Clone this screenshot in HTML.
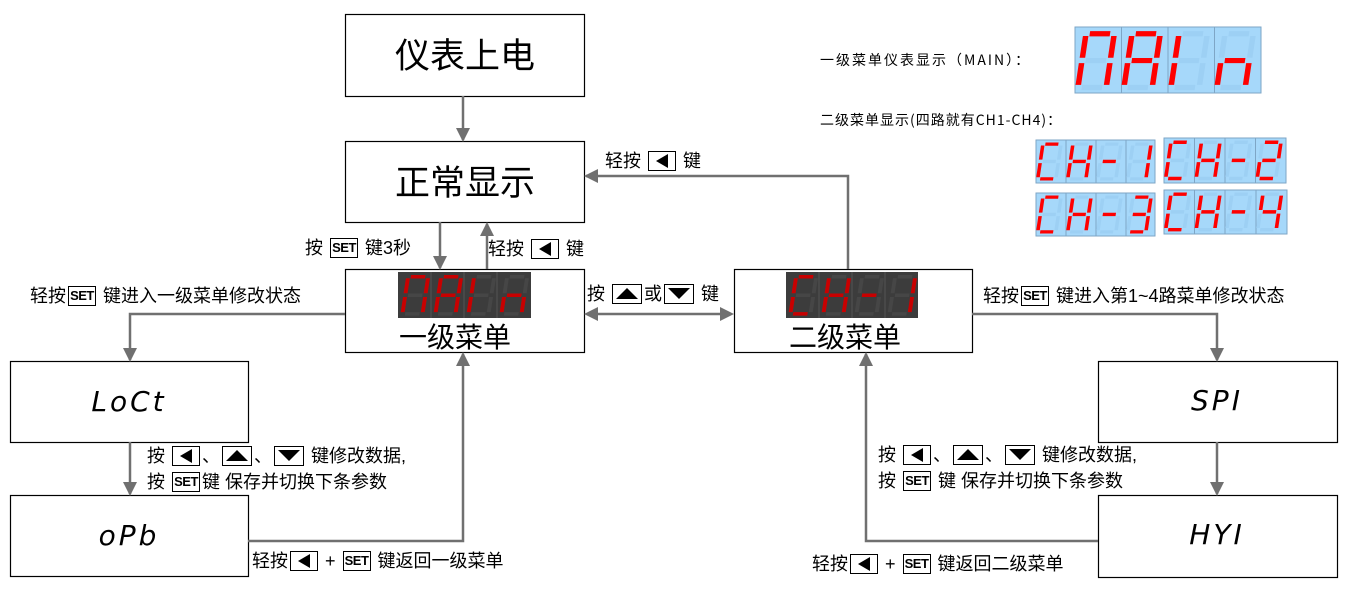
<!DOCTYPE html>
<html><head><meta charset="utf-8">
<style>
body{margin:0;width:1346px;height:606px;background:#fff;position:relative;overflow:hidden;font-family:"Liberation Sans","Noto Sans CJK SC",sans-serif;}
svg.m{position:absolute;left:0;top:0}
.l{position:absolute;font-size:18px;line-height:22px;white-space:nowrap;color:#000}
.k{display:inline-block;border:1px solid #000;height:20px;line-height:18px;min-width:28px;text-align:center;font-size:13px;font-weight:bold;vertical-align:middle;margin:-2px 2px 0;box-sizing:border-box;padding:0 1px;letter-spacing:-0.5px}
.k svg{display:block;margin:2px auto 0}
.s{position:absolute;font-size:14px;font-family:"WenQuanYi Zen Hei","Noto Sans CJK SC",sans-serif;letter-spacing:2px;white-space:nowrap}
.seg{position:absolute;font-family:"DejaVu Sans",sans-serif;font-style:italic;font-size:28px;text-align:center;width:238px;letter-spacing:3px;font-weight:normal}
</style></head><body>
<svg class="m" width="1346" height="606" viewBox="0 0 1346 606">
<defs>
<rect id="a" x="5" y="0.5" width="14" height="3.8"/>
<rect id="b" x="20" y="4" width="3.8" height="16"/>
<rect id="c" x="20" y="24" width="3.8" height="16"/>
<rect id="d" x="5" y="40" width="14" height="3.8"/>
<rect id="e" x="0.5" y="24" width="3.8" height="16"/>
<rect id="f" x="0.5" y="4" width="3.8" height="16"/>
<rect id="g" x="5" y="20.2" width="14" height="3.8"/>
<g id="all"><use href="#a"/><use href="#b"/><use href="#c"/><use href="#d"/><use href="#e"/><use href="#f"/><use href="#g"/></g>
<marker id="ar" markerWidth="14" markerHeight="14" refX="12" refY="7" orient="auto" markerUnits="userSpaceOnUse" viewBox="0 0 14 14"><path d="M0,0 L14,7 L0,14 z" fill="#707070"/></marker>
</defs>
<g fill="none" stroke="#000" stroke-width="1.2">
<rect x="345.5" y="14.5" width="239" height="82"/>
<rect x="345.5" y="141.5" width="239" height="81"/>
<rect x="345.5" y="269.5" width="239" height="83"/>
<rect x="734.5" y="269.5" width="238" height="83"/>
<rect x="10.5" y="361.5" width="238" height="81"/>
<rect x="10.5" y="495.5" width="238" height="81"/>
<rect x="1098.5" y="361.5" width="239" height="81"/>
<rect x="1098.5" y="495.5" width="239" height="82"/>
</g>
<g fill="none" stroke="#707070" stroke-width="2.5">
<line x1="463" y1="96" x2="463" y2="140" marker-end="url(#ar)"/>
<line x1="440" y1="222" x2="440" y2="268" marker-end="url(#ar)"/>
<line x1="487" y1="269" x2="487" y2="224" marker-end="url(#ar)"/>
<polyline points="848,269 848,176 586,176" marker-end="url(#ar)"/>
<line x1="596" y1="314" x2="722" y2="314"/>
<polyline points="345,314 130,314 130,360" marker-end="url(#ar)"/>
<line x1="130" y1="442" x2="130" y2="494" marker-end="url(#ar)"/>
<polyline points="248,541 463,541 463,354" marker-end="url(#ar)"/>
<polyline points="972,314 1217,314 1217,360" marker-end="url(#ar)"/>
<line x1="1217" y1="442" x2="1217" y2="494" marker-end="url(#ar)"/>
<polyline points="1098,541 866,541 866,354" marker-end="url(#ar)"/>
</g>
<path d="M584,314 L598,307 L598,321 z M734,314 L720,307 L720,321 z" fill="#707070"/>
<rect x="398" y="272" width="133" height="46" fill="#3c3c3c"/>
<rect x="786" y="272" width="132" height="46" fill="#3c3c3c"/>
<g stroke="#555" stroke-width="1" fill="none">
<line x1="431" y1="272" x2="431" y2="318"/><line x1="464" y1="272" x2="464" y2="318"/><line x1="497" y1="272" x2="497" y2="318"/>
<line x1="819" y1="272" x2="819" y2="318"/><line x1="852" y1="272" x2="852" y2="318"/><line x1="885" y1="272" x2="885" y2="318"/>
</g>
<g>
<g transform="translate(406,274.5) scale(1.03,0.94) skewX(-8)" fill="#464646"><use href="#all"/><g fill="#c80000"><use href="#a"/><use href="#b"/><use href="#c"/><use href="#e"/><use href="#f"/></g></g>
<g transform="translate(439,274.5) scale(1.03,0.94) skewX(-8)" fill="#464646"><use href="#all"/><g fill="#c80000"><use href="#a"/><use href="#b"/><use href="#c"/><use href="#e"/><use href="#f"/><use href="#g"/></g></g>
<g transform="translate(472,274.5) scale(1.03,0.94) skewX(-8)" fill="#464646"><use href="#all"/><g fill="#c80000"><use href="#e"/><use href="#f"/></g></g>
<g transform="translate(505,274.5) scale(1.03,0.94) skewX(-8)" fill="#464646"><use href="#all"/><g fill="#c80000"><use href="#c"/><use href="#e"/><use href="#g"/></g></g>
<g transform="translate(794,274.5) scale(1.03,0.94) skewX(-8)" fill="#464646"><use href="#all"/><g fill="#c80000"><use href="#a"/><use href="#d"/><use href="#e"/><use href="#f"/></g></g>
<g transform="translate(827,274.5) scale(1.03,0.94) skewX(-8)" fill="#464646"><use href="#all"/><g fill="#c80000"><use href="#b"/><use href="#c"/><use href="#e"/><use href="#f"/><use href="#g"/></g></g>
<g transform="translate(860,274.5) scale(1.03,0.94) skewX(-8)" fill="#464646"><use href="#all"/><g fill="#c80000"><use href="#g"/></g></g>
<g transform="translate(893,274.5) scale(1.03,0.94) skewX(-8)" fill="#464646"><use href="#all"/><g fill="#c80000"><use href="#b"/><use href="#c"/></g></g>
</g>
<g fill="#a6d8fa" stroke="#7ea6c6" stroke-width="1">
<rect x="1075" y="27" width="186" height="66"/>
<line x1="1121.5" y1="27" x2="1121.5" y2="93"/><line x1="1168" y1="27" x2="1168" y2="93"/><line x1="1214.5" y1="27" x2="1214.5" y2="93"/>
<rect x="1036" y="140" width="119" height="43"/>
<line x1="1066" y1="140" x2="1066" y2="183"/><line x1="1096" y1="140" x2="1096" y2="183"/><line x1="1126" y1="140" x2="1126" y2="183"/>
<rect x="1164" y="138" width="122" height="45"/>
<line x1="1194.5" y1="138" x2="1194.5" y2="183"/><line x1="1225" y1="138" x2="1225" y2="183"/><line x1="1255.5" y1="138" x2="1255.5" y2="183"/>
<rect x="1036" y="193" width="119" height="43"/>
<line x1="1066" y1="193" x2="1066" y2="236"/><line x1="1096" y1="193" x2="1096" y2="236"/><line x1="1126" y1="193" x2="1126" y2="236"/>
<rect x="1164" y="190" width="123" height="44"/>
<line x1="1194.5" y1="190" x2="1194.5" y2="234"/><line x1="1225" y1="190" x2="1225" y2="234"/><line x1="1256" y1="190" x2="1256" y2="234"/>
</g>
<g fill="#9dd0f4">
<g transform="translate(1083,30.5) scale(1.45,1.36) skewX(-8)"><use href="#all"/><g fill="#f00"><use href="#a"/><use href="#b"/><use href="#c"/><use href="#e"/><use href="#f"/></g></g>
<g transform="translate(1129,30.5) scale(1.45,1.36) skewX(-8)"><use href="#all"/><g fill="#f00"><use href="#a"/><use href="#b"/><use href="#c"/><use href="#e"/><use href="#f"/><use href="#g"/></g></g>
<g transform="translate(1176,30.5) scale(1.45,1.36) skewX(-8)"><use href="#all"/><g fill="#f00"><use href="#e"/><use href="#f"/></g></g>
<g transform="translate(1222,30.5) scale(1.45,1.36) skewX(-8)"><use href="#all"/><g fill="#f00"><use href="#c"/><use href="#e"/><use href="#g"/></g></g>
<g transform="translate(1041,142) scale(0.93,0.88) skewX(-8)"><use href="#all"/><g fill="#f00"><use href="#a"/><use href="#d"/><use href="#e"/><use href="#f"/></g></g>
<g transform="translate(1071,142) scale(0.93,0.88) skewX(-8)"><use href="#all"/><g fill="#f00"><use href="#b"/><use href="#c"/><use href="#e"/><use href="#f"/><use href="#g"/></g></g>
<g transform="translate(1101,142) scale(0.93,0.88) skewX(-8)"><use href="#all"/><g fill="#f00"><use href="#g"/></g></g>
<g transform="translate(1131,142) scale(0.93,0.88) skewX(-8)"><use href="#all"/><g fill="#f00"><use href="#b"/><use href="#c"/></g></g>
<g transform="translate(1169,140) scale(0.95,0.92) skewX(-8)"><use href="#all"/><g fill="#f00"><use href="#a"/><use href="#d"/><use href="#e"/><use href="#f"/></g></g>
<g transform="translate(1199.5,140) scale(0.95,0.92) skewX(-8)"><use href="#all"/><g fill="#f00"><use href="#b"/><use href="#c"/><use href="#e"/><use href="#f"/><use href="#g"/></g></g>
<g transform="translate(1230,140) scale(0.95,0.92) skewX(-8)"><use href="#all"/><g fill="#f00"><use href="#g"/></g></g>
<g transform="translate(1260.5,140) scale(0.95,0.92) skewX(-8)"><use href="#all"/><g fill="#f00"><use href="#a"/><use href="#b"/><use href="#g"/><use href="#e"/><use href="#d"/></g></g>
<g transform="translate(1041,195) scale(0.93,0.88) skewX(-8)"><use href="#all"/><g fill="#f00"><use href="#a"/><use href="#d"/><use href="#e"/><use href="#f"/></g></g>
<g transform="translate(1071,195) scale(0.93,0.88) skewX(-8)"><use href="#all"/><g fill="#f00"><use href="#b"/><use href="#c"/><use href="#e"/><use href="#f"/><use href="#g"/></g></g>
<g transform="translate(1101,195) scale(0.93,0.88) skewX(-8)"><use href="#all"/><g fill="#f00"><use href="#g"/></g></g>
<g transform="translate(1131,195) scale(0.93,0.88) skewX(-8)"><use href="#all"/><g fill="#f00"><use href="#a"/><use href="#b"/><use href="#g"/><use href="#c"/><use href="#d"/></g></g>
<g transform="translate(1169,192) scale(0.95,0.9) skewX(-8)"><use href="#all"/><g fill="#f00"><use href="#a"/><use href="#d"/><use href="#e"/><use href="#f"/></g></g>
<g transform="translate(1199.5,192) scale(0.95,0.9) skewX(-8)"><use href="#all"/><g fill="#f00"><use href="#b"/><use href="#c"/><use href="#e"/><use href="#f"/><use href="#g"/></g></g>
<g transform="translate(1230,192) scale(0.95,0.9) skewX(-8)"><use href="#all"/><g fill="#f00"><use href="#g"/></g></g>
<g transform="translate(1261,192) scale(0.95,0.9) skewX(-8)"><use href="#all"/><g fill="#f00"><use href="#f"/><use href="#g"/><use href="#b"/><use href="#c"/></g></g>
</g>
<g font-family="Liberation Sans, Noto Sans CJK SC, sans-serif" text-anchor="middle" fill="#000">
<text x="465" y="68" font-size="35">仪表上电</text>
<text x="465" y="195" font-size="35">正常显示</text>
<text x="455" y="347" font-size="28">一级菜单</text>
<text x="845" y="347" font-size="28">二级菜单</text>
</g>
</svg>
<div class="seg" style="left:10px;top:385px">LoCt</div>
<div class="seg" style="left:10px;top:519px">oPb</div>
<div class="seg" style="left:1098px;top:384px">SPI</div>
<div class="seg" style="left:1098px;top:518px">HYI</div>
<div class="s" style="left:820px;top:50px">一级菜单仪表显示（MAIN）：</div>
<div class="s" style="left:820px;top:110px;letter-spacing:1px">二级菜单显示(四路就有CH1-CH4)：</div>
<div class="l" style="left:305px;top:237px">按 <span class="k">SET</span> 键3秒</div>
<div class="l" style="left:488px;top:238px">轻按 <span class="k"><svg width="14" height="14"><path d="M1,7 L13,0 L13,14z"/></svg></span> 键</div>
<div class="l" style="left:605px;top:150px">轻按 <span class="k"><svg width="14" height="14"><path d="M1,7 L13,0 L13,14z"/></svg></span> 键</div>
<div class="l" style="left:587px;top:283px">按 <span class="k" style="min-width:30px"><svg width="22" height="13"><path d="M0,12 L11,1 L22,12z"/></svg></span>或<span class="k" style="min-width:30px"><svg width="22" height="13"><path d="M0,1 L22,1 L11,12z"/></svg></span> 键</div>
<div class="l" style="left:30px;top:285px">轻按<span class="k">SET</span> 键进入一级菜单修改状态</div>
<div class="l" style="left:983px;top:285px">轻按<span class="k">SET</span> 键进入第1~4路菜单修改状态</div>
<div class="l" style="left:147px;top:445px">按 <span class="k"><svg width="14" height="14"><path d="M1,7 L13,0 L13,14z"/></svg></span>、<span class="k" style="min-width:30px"><svg width="22" height="13"><path d="M0,12 L11,1 L22,12z"/></svg></span>、<span class="k" style="min-width:30px"><svg width="22" height="13"><path d="M0,1 L22,1 L11,12z"/></svg></span> 键修改数据,</div>
<div class="l" style="left:147px;top:471px">按 <span class="k">SET</span>键 保存并切换下条参数</div>
<div class="l" style="left:878px;top:444px">按 <span class="k"><svg width="14" height="14"><path d="M1,7 L13,0 L13,14z"/></svg></span>、<span class="k" style="min-width:30px"><svg width="22" height="13"><path d="M0,12 L11,1 L22,12z"/></svg></span>、<span class="k" style="min-width:30px"><svg width="22" height="13"><path d="M0,1 L22,1 L11,12z"/></svg></span> 键修改数据,</div>
<div class="l" style="left:878px;top:470px">按 <span class="k">SET</span> 键 保存并切换下条参数</div>
<div class="l" style="left:252px;top:550px">轻按<span class="k"><svg width="14" height="14"><path d="M1,7 L13,0 L13,14z"/></svg></span> + <span class="k">SET</span> 键返回一级菜单</div>
<div class="l" style="left:812px;top:553px">轻按<span class="k"><svg width="14" height="14"><path d="M1,7 L13,0 L13,14z"/></svg></span> + <span class="k">SET</span> 键返回二级菜单</div>
</body></html>
